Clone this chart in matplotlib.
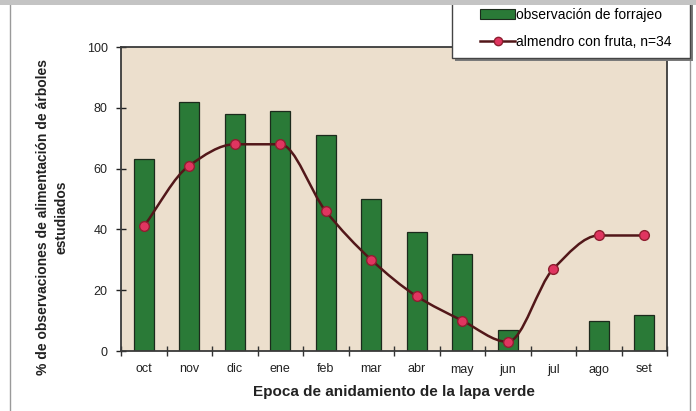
import numpy as np
import matplotlib as mpl
mpl.use("Agg")
import matplotlib.pyplot as plt
from matplotlib.path import Path
from matplotlib.patches import PathPatch, Rectangle
from matplotlib.lines import Line2D

mpl.rcParams.update({
    "font.family": ["Liberation Sans", "DejaVu Sans"],
    "font.size": 9,
})

MONTHS = ["oct", "nov", "dic", "ene", "feb", "mar", "abr", "may", "jun", "jul", "ago", "set"]
FORRAJEO = [63, 82, 78, 79, 71, 50, 39, 32, 7, 0, 10, 12]
ALMENDRO = [41, 61, 68, 68, 46, 30, 18, 10, 3, 27, 38, 38]

BAR_COLOR = "#2a7a37"
LINE_COLOR = "#521719"
MARKER_FACE = "#e03560"
MARKER_EDGE = "#8e1f30"
BG_PLOT = "#ecdfcd"

W, H = 696, 411


def smooth_path(x, y):
    # monotone cubic bezier through the points (no overshoot)
    x = np.asarray(x, float)
    y = np.asarray(y, float)
    d = np.diff(y) / np.diff(x)
    m = np.zeros_like(y)
    m[0], m[-1] = d[0], d[-1]
    for i in range(1, len(y) - 1):
        if d[i - 1] * d[i] > 0:
            m[i] = 2 / (1 / d[i - 1] + 1 / d[i])
    verts = [(x[0], y[0])]
    codes = [Path.MOVETO]
    for i in range(len(x) - 1):
        h = (x[i + 1] - x[i]) / 3
        verts += [(x[i] + h, y[i] + m[i] * h),
                  (x[i + 1] - h, y[i + 1] - m[i + 1] * h),
                  (x[i + 1], y[i + 1])]
        codes += [Path.CURVE4] * 3
    return Path(verts, codes)


def fx(px):
    return px / W


def fy(py):
    return 1 - py / H


fig = plt.figure(figsize=(6.96, 4.11), dpi=100)
fig.patch.set_facecolor("white")

# outer frame like the scanned page
fig.lines.append(Line2D([fx(10), fx(10)], [0, fy(5)], transform=fig.transFigure,
                        color="#9a9a9a", lw=1.0))
fig.lines.append(Line2D([fx(690), fx(690)], [0, fy(5)], transform=fig.transFigure,
                        color="#9a9a9a", lw=1.0))

ax = fig.add_axes([fx(121), fy(351), fx(546), 304 / H])
ax.set_facecolor(BG_PLOT)

x = np.arange(len(MONTHS))
ax.bar(x, FORRAJEO, width=0.44, color=BAR_COLOR, edgecolor="#1c2a1c", linewidth=0.9, zorder=2)

ax.add_patch(PathPatch(smooth_path(x, ALMENDRO), facecolor="none", edgecolor=LINE_COLOR,
                       lw=1.8, zorder=3))
ax.plot(x, ALMENDRO, linestyle="none", marker="o", markersize=7,
        markerfacecolor=MARKER_FACE, markeredgecolor=MARKER_EDGE, markeredgewidth=1.0, zorder=4)

ax.set_xlim(-0.5, len(MONTHS) - 0.5)
ax.set_ylim(0, 100)
ax.set_yticks(np.arange(0, 101, 20))
ax.set_xticks(x)
ax.set_xticklabels(MONTHS)
ax.set_xticks(np.arange(-0.5, len(MONTHS), 1), minor=True)
ax.tick_params(axis="x", which="major", length=0, pad=9, labelsize=9, colors="#222222")
ax.tick_params(axis="x", which="minor", direction="inout", length=7, width=1.0, color="#333333")
ax.tick_params(axis="y", direction="inout", length=7, width=1.0, pad=6, labelsize=9,
               colors="#222222")
for s in ax.spines.values():
    s.set_color("#3a3a3a")
    s.set_linewidth(1.3)

ax.set_xlabel("Epoca de anidamiento de la lapa verde", fontsize=11, fontweight="bold",
              color="#222222", labelpad=7)
ax.set_ylabel("% de observaciones de alimentación de árboles\nestudiados", fontsize=10,
              fontweight="bold", color="#222222", linespacing=1.35)
ax.yaxis.set_label_coords(-0.097, 0.44)

# legend box with shadow, top hidden under the grey band
fig.patches.append(Rectangle((fx(455), fy(61)), fx(238), 57 / H, transform=fig.transFigure,
                             facecolor="#7a7a7a", edgecolor="none", zorder=5))
fig.patches.append(Rectangle((fx(452), fy(58)), fx(238), 57 / H, transform=fig.transFigure,
                             facecolor="white", edgecolor="#444444", lw=1.0, zorder=6))

handles = [Rectangle((0, 0), 1, 1, facecolor=BAR_COLOR, edgecolor="#1c2a1c", lw=0.8),
           Line2D([], [], color=LINE_COLOR, lw=1.8, marker="o", markersize=6,
                  markerfacecolor=MARKER_FACE, markeredgecolor=MARKER_EDGE)]
leg = fig.legend(handles, ["observación de forrajeo", "almendro con fruta, n=34"],
                 loc="upper left", bbox_to_anchor=(fx(476), fy(4)),
                 frameon=False, fontsize=10, handlelength=2.5, handletextpad=0.1,
                 labelspacing=0.95, borderpad=0.3, borderaxespad=0)
leg.set_zorder(7)

# grey band at the top of the page
fig.patches.append(Rectangle((0, fy(5)), 1, 5 / H, transform=fig.transFigure,
                             facecolor="#c4c4c4", edgecolor="none", zorder=8))

fig.savefig("out.png", dpi=100)
